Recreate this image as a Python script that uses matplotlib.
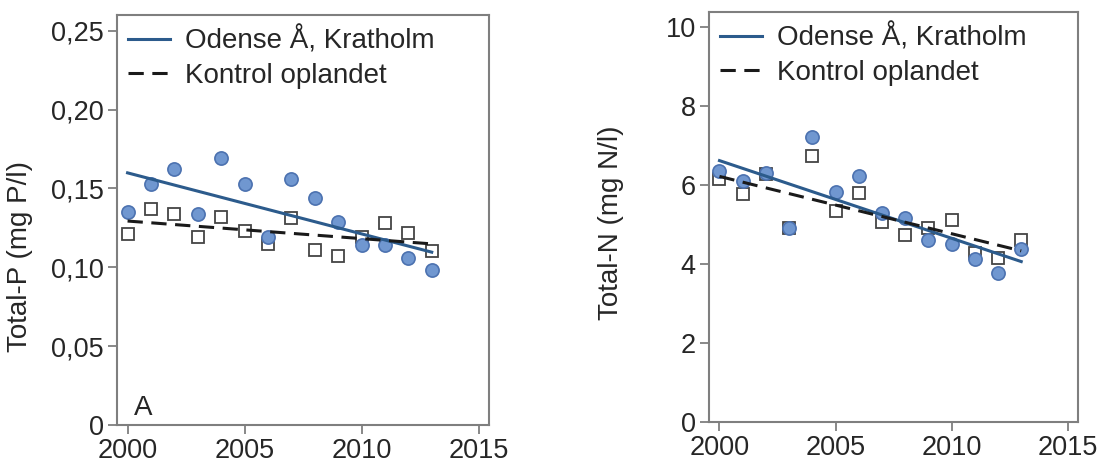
import numpy as np
import matplotlib
matplotlib.use("Agg")
import matplotlib.pyplot as plt
from matplotlib.ticker import FuncFormatter

plt.rcParams['font.family'] = ['Liberation Sans', 'DejaVu Sans']

years = np.arange(2000, 2014)

# Total-P (mg P/l)
p_odense = [0.135, 0.153, 0.162, 0.134, 0.169, 0.153, 0.119, 0.156, 0.144,
            0.129, 0.114, 0.114, 0.106, 0.098]
p_kontrol = [0.121, 0.137, 0.134, 0.119, 0.132, 0.123, 0.115, 0.131, 0.111,
             0.107, 0.119, 0.128, 0.122, 0.110]

# Total-N (mg N/l)
n_odense = [6.35, 6.09, 6.30, 4.91, 7.22, 5.81, 6.22, 5.29, 5.16,
            4.61, 4.50, 4.12, 3.77, 4.38]
n_kontrol = [6.15, 5.77, 6.28, 4.90, 6.74, 5.33, 5.80, 5.05, 4.74,
             4.91, 5.12, 4.27, 4.15, 4.61]

label_odense = 'Odense Å, Kratholm'
label_kontrol = 'Kontrol oplandet'

blue_line = '#2c5b8c'
blue_fill = '#7097d0'
blue_edge = '#4c72b0'
spine_col = '#7f7f7f'
text_col = '#262626'
fs_tick = 19.5
fs_lab = 20


def panel(ax, y1, y2, ylim, yticks, ylabel, fmt):
    ax.plot(years, y2, 's', ms=9, mfc='white', mec='#444444', mew=1.3, zorder=2)
    ax.plot(years, y1, 'o', ms=9.5, mfc=blue_fill, mec=blue_edge, mew=1.2, zorder=3)
    # linear trend lines
    a1, b1 = np.polyfit(years, y1, 1)
    a2, b2 = np.polyfit(years, y2, 1)
    ax.plot(years, a1 * years + b1, '-', color=blue_line, lw=2.2, zorder=4,
            label=label_odense)
    ax.plot(years, a2 * years + b2, '--', color='#1a1a1a', lw=2.2,
            dashes=(5, 2.8), zorder=4, label=label_kontrol)
    ax.set_xlim(1999.55, 2015.45)
    ax.set_ylim(*ylim)
    ax.set_xticks([2000, 2005, 2010, 2015])
    ax.set_yticks(yticks)
    ax.yaxis.set_major_formatter(FuncFormatter(fmt))
    ax.set_ylabel(ylabel, fontsize=fs_lab, labelpad=8, color=text_col)
    ax.tick_params(labelsize=fs_tick, color=spine_col, length=6.5, width=1.3,
                   direction='out', pad=3, labelcolor=text_col)
    for s in ax.spines.values():
        s.set_color(spine_col)
        s.set_linewidth(1.5)
    ax.legend(loc='upper left', frameon=False, fontsize=fs_lab,
              handlelength=1.5, handletextpad=0.55, borderaxespad=0.35,
              borderpad=0.05, labelspacing=0.3, labelcolor=text_col)


fig = plt.figure(figsize=(11.01, 4.66), dpi=100)
ax1 = fig.add_axes([0.1063, 0.088, 0.3379, 0.880])
ax2 = fig.add_axes([0.644, 0.095, 0.3352, 0.879])


def p_fmt(v, pos):
    if abs(v) < 1e-9:
        return '0'
    return ('%.2f' % v).replace('.', ',')


def n_fmt(v, pos):
    return '%d' % round(v)


panel(ax1, p_odense, p_kontrol, (0, 0.26), [0, 0.05, 0.10, 0.15, 0.20, 0.25],
      'Total-P (mg P/l)', p_fmt)
panel(ax2, n_odense, n_kontrol, (0, 10.38), [0, 2, 4, 6, 8, 10],
      'Total-N (mg N/l)', n_fmt)

ax1.yaxis.set_label_coords(-0.225, 0.41)
ax2.yaxis.set_label_coords(-0.23, 0.486)

ax1.text(0.045, 0.025, 'A', transform=ax1.transAxes, fontsize=fs_lab,
         color=text_col)

fig.savefig('out.png', dpi=100)
